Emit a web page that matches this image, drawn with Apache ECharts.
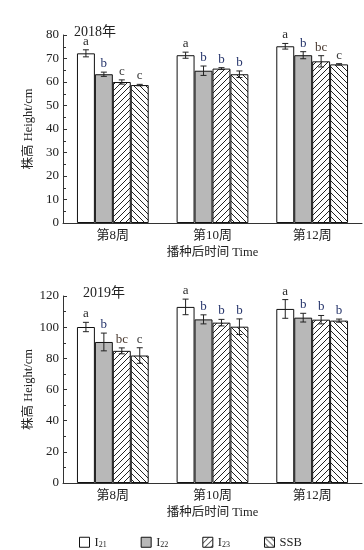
<!DOCTYPE html>
<html><head><meta charset="utf-8">
<script src="https://cdn.jsdelivr.net/npm/echarts@6/dist/echarts.min.js"></script>
<style>html,body{margin:0;padding:0;background:#fff}#c{width:364px;height:550px}</style>
</head><body><div id="c"></div>
<script>
// ---- data ----
var categories = ['第8周', '第10周', '第12周'];
var seriesNames = ['I21', 'I22', 'I23', 'SSB'];

var i21_2018 = [72.2, 71.4, 75.2];
var i22_2018 = [63.3, 64.8, 71.4];
var i23_2018 = [60.0, 65.7, 68.8];
var ssb_2018 = [58.7, 63.3, 67.5];
var err_i21_2018 = [1.5, 1.3, 1.2];
var err_i22_2018 = [0.9, 2.0, 1.5];
var err_i23_2018 = [0.9, 0.4, 2.4];
var err_ssb_2018 = [0.3, 1.4, 0.3];
var let_i21_2018 = ['a', 'a', 'a'];
var let_i22_2018 = ['b', 'b', 'b'];
var let_i23_2018 = ['c', 'b', 'bc'];
var let_ssb_2018 = ['c', 'b', 'c'];

var i21_2019 = [100.1, 113.0, 111.7];
var i22_2019 = [90.5, 105.0, 106.1];
var i23_2019 = [84.8, 102.9, 104.8];
var ssb_2019 = [81.8, 100.3, 104.2];
var err_i21_2019 = [3.0, 5.0, 6.0];
var err_i22_2019 = [5.7, 2.9, 2.8];
var err_i23_2019 = [1.9, 2.1, 2.7];
var err_ssb_2019 = [5.0, 5.0, 1.0];
var let_i21_2019 = ['a', 'a', 'a'];
var let_i22_2019 = ['b', 'b', 'b'];
var let_i23_2019 = ['bc', 'b', 'b'];
var let_ssb_2019 = ['c', 'b', 'b'];

var yTicks2018 = {min: 0, max: 80, interval: 10};
var yTicks2019 = {min: 0, max: 120, interval: 20};

// ---- styles ----
var FONT = '"Liberation Serif", "Noto Sans CJK SC", serif';
var GAP = 0.28;
function hatch(dir) {
  var s = 6, c = document.createElement('canvas');
  c.width = s; c.height = s;
  var g = c.getContext('2d');
  g.fillStyle = '#fff'; g.fillRect(0, 0, s, s);
  g.strokeStyle = '#222'; g.lineWidth = 1;
  g.beginPath();
  if (dir > 0) {
    g.moveTo(-1, s + 1); g.lineTo(s + 1, -1);
    g.moveTo(-1, 1); g.lineTo(1, -1);
    g.moveTo(s - 1, s + 1); g.lineTo(s + 1, s - 1);
  } else {
    g.moveTo(-1, -1); g.lineTo(s + 1, s + 1);
    g.moveTo(s - 1, -1); g.lineTo(s + 1, 1);
    g.moveTo(-1, s - 1); g.lineTo(1, s + 1);
  }
  g.stroke();
  return c;
}
var fills = ['#ffffff', '#b8b8b8', {image: hatch(1), repeat: 'repeat'}, {image: hatch(-1), repeat: 'repeat'}];
var letterColors = {a: '#2a2a2a', b: '#24336a', c: '#3a3a3a', bc: '#4a3a30'};

function barSeries(k, vals, gi) {
  return {
    name: seriesNames[k], type: 'bar', xAxisIndex: gi, yAxisIndex: gi,
    data: vals, barGap: '0%', barCategoryGap: (GAP * 100) + '%',
    itemStyle: {color: fills[k], borderColor: '#111', borderWidth: 1},
    emphasis: {disabled: true}, z: 2
  };
}
function errSeries(k, vals, errs, letters, gi) {
  return {
    type: 'custom', xAxisIndex: gi, yAxisIndex: gi, z: 5, silent: true,
    data: vals.map(function (v, i) { return [i, v, errs[i]]; }),
    renderItem: function (params, api) {
      var ci = api.value(0), v = api.value(1), e = api.value(2);
      var band = api.size([1, 0])[0];
      var bw = band * (1 - GAP) / 4;
      var cx = api.coord([ci, v])[0] + (k - 1.5) * bw;
      var yHi = api.coord([ci, v + e])[1], yLo = api.coord([ci, v - e])[1];
      var cap = 3;
      var L = letters[params.dataIndex];
      var st = {stroke: '#222', lineWidth: 1};
      return {type: 'group', children: [
        {type: 'line', shape: {x1: cx, y1: yHi, x2: cx, y2: yLo}, style: st},
        {type: 'line', shape: {x1: cx - cap, y1: yHi, x2: cx + cap, y2: yHi}, style: st},
        {type: 'line', shape: {x1: cx - cap, y1: yLo, x2: cx + cap, y2: yLo}, style: st},
        {type: 'text', style: {text: L, x: cx, y: yHi - 2, align: 'center', verticalAlign: 'bottom',
          font: '13px ' + FONT, fill: letterColors[L] || '#222'}}
      ]};
    }
  };
}

function xAxis(gi) {
  return {
    type: 'category', gridIndex: gi, data: categories,
    axisLine: {lineStyle: {color: '#333', width: 1}}, axisTick: {show: false},
    axisLabel: {fontFamily: FONT, fontSize: 13, color: '#222', margin: 6},
    name: '播种后时间 Time', nameLocation: 'middle', nameGap: 23, nameMoveOverlap: false,
    nameTextStyle: {fontFamily: FONT, fontSize: 12.5, color: '#222'}
  };
}
function yAxis(gi, t) {
  return {
    type: 'value', gridIndex: gi, min: t.min, max: t.max, interval: t.interval,
    axisLine: {show: true, lineStyle: {color: '#333', width: 1}},
    axisTick: {show: true, inside: true, length: 4, lineStyle: {color: '#333'}},
    minorTick: {show: true, splitNumber: 2, length: 3, lineStyle: {color: '#333'}},
    splitLine: {show: false},
    axisLabel: {fontFamily: FONT, fontSize: 13, color: '#222', margin: 4},
    name: '株高 Height/cm', nameLocation: 'middle', nameGap: 28, nameRotate: 90, nameMoveOverlap: false,
    nameTextStyle: {fontFamily: FONT, fontSize: 12.5, color: '#222'}
  };
}

var series = [];
var d2018 = [[i21_2018, err_i21_2018, let_i21_2018], [i22_2018, err_i22_2018, let_i22_2018],
             [i23_2018, err_i23_2018, let_i23_2018], [ssb_2018, err_ssb_2018, let_ssb_2018]];
var d2019 = [[i21_2019, err_i21_2019, let_i21_2019], [i22_2019, err_i22_2019, let_i22_2019],
             [i23_2019, err_i23_2019, let_i23_2019], [ssb_2019, err_ssb_2019, let_ssb_2019]];
[d2018, d2019].forEach(function (d, gi) {
  d.forEach(function (s, k) { series.push(barSeries(k, s[0], gi)); });
  d.forEach(function (s, k) { series.push(errSeries(k, s[0], s[1], s[2], gi)); });
});

var chart = echarts.init(document.getElementById('c'), null, {renderer: 'canvas'});
chart.setOption({
  animation: false,
  backgroundColor: '#fff',
  title: [
    {text: '2018年', left: 69, top: 20, textStyle: {fontFamily: FONT, fontSize: 14, fontWeight: 'normal', color: '#222'}},
    {text: '2019年', left: 78, top: 281, textStyle: {fontFamily: FONT, fontSize: 14, fontWeight: 'normal', color: '#222'}}
  ],
  grid: [
    {left: 63, right: 2, top: 35, height: 188},
    {left: 63, right: 2, top: 296, height: 187}
  ],
  xAxis: [xAxis(0), xAxis(1)],
  yAxis: [yAxis(0, yTicks2018), yAxis(1, yTicks2019)],
  legend: {
    left: 74, top: 531, itemWidth: 10, itemHeight: 10, itemGap: 34, icon: 'rect',
    data: seriesNames,
    itemStyle: {borderColor: '#111', borderWidth: 1},
    formatter: function (n) {
      if (n === 'SSB') return '{i|SSB}';
      return '{i|I}{s|' + n.slice(1) + '}';
    },
    textStyle: {fontFamily: FONT, color: '#222', rich: {
      i: {fontFamily: FONT, fontSize: 12.5, color: '#222', lineHeight: 14},
      s: {fontFamily: FONT, fontSize: 8, color: '#222', lineHeight: 14, verticalAlign: 'bottom', padding: [5, 0, 0, 0]}
    }}
  },
  series: series
});
</script></body></html>
